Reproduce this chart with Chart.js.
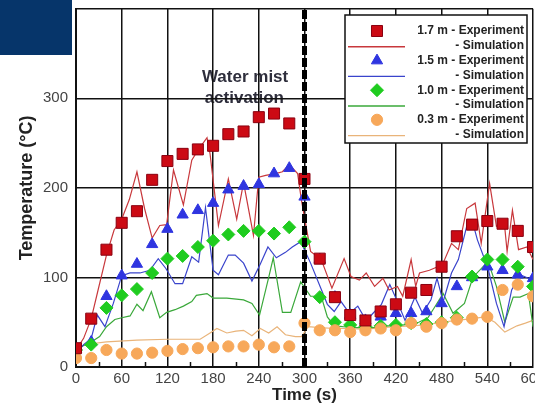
<!DOCTYPE html>
<html>
<head>
<meta charset="utf-8">
<script src="https://cdn.jsdelivr.net/npm/chart.js@4/dist/chart.umd.min.js"></script>
<style>
  html, body { margin:0; padding:0; width:535px; height:409px; overflow:hidden; background:#fff; }
  #wrap { position:relative; width:560px; height:409px; }
  #navy { position:absolute; left:0; top:0; width:72px; height:55px; background:#06356a; }
</style>
</head>
<body>
<div id="wrap">
  <canvas id="c" width="560" height="409"></canvas>
  <div id="navy"></div>
</div>
<script>
// ---- Data ----
const expTime = [0,20,40,60,80,100,120,140,160,180,200,220,240,260,280,300,320,340,360,380,400,420,440,460,480,500,520,540,560,580,600];
const exp17 = [21,54,131,161,174,209,230,238,243,247,260,263,279,283,272,210,121,78,58,52,62,70,83,86,112,146,159,163,160,152,134];
const exp15 = [20,28,79,102,115,137,154,170,175,183,198,202,204,216,222,190,120,78,58,52,56,60,60,62,71,90,100,112,108,103,99];
const exp10 = [19,25,66,80,87,105,121,124,134,141,148,152,152,149,156,140,78,50,47,45,46,47,49,48,50,55,101,120,120,112,90];
const exp03 = [10,10,19,15,15,16,18,20,21,22,23,23,25,22,23,49,41,41,39,41,43,41,49,45,49,53,54,56,86,92,79];

const simTime17 = [0,10,20,29,40,50,60,70,80,90,100,110,119,128,141,152,160,172,176,187,200,211,220,233,240,249,262,271,280,291,296,308,322,336,352,361,372,381,392,403,411,422,429,440,446,451,464,481,493,502,513,524,532,543,552,562,566,573,581,592,600];
const sim17     = [19,32,54,86,125,153,165,187,218,177,144,158,159,220,181,231,242,256,238,158,210,165,206,147,212,214,216,218,226,216,186,129,120,88,121,101,97,105,90,99,86,90,79,120,90,105,108,114,138,131,177,183,138,205,157,164,129,175,131,134,120];

const simTime15 = [0,10,20,28,38,49,60,71,84,97,108,118,130,140,152,161,170,180,187,200,209,220,231,242,252,263,275,284,295,308,330,339,348,359,370,381,390,401,412,422,432,445,455,466,474,482,493,502,513,520,527,541,552,562,572,583,594,600];
const sim15     = [15,25,32,58,45,71,102,105,105,108,121,110,93,93,123,117,178,108,103,125,125,116,96,115,134,122,128,134,140,116,70,62,73,60,68,52,60,70,92,73,52,78,60,75,99,73,105,120,157,164,142,110,71,45,86,103,99,101];

const simTime10 = [0,10,20,31,40,51,60,71,80,88,99,110,119,130,141,152,158,172,180,198,220,231,241,253,259,271,282,295,308,322,330,339,350,370,390,410,430,450,462,471,482,495,510,521,541,552,563,574,583,594,600];
const sim10     = [19,24,28,34,45,53,55,57,70,63,84,55,61,64,68,73,80,82,77,77,75,71,58,100,122,61,61,95,79,79,56,46,45,44,44,46,47,50,55,67,82,60,71,100,118,90,50,78,78,82,45];

const simTime03 = [0,20,40,80,120,163,176,185,198,210,220,231,242,253,264,275,288,296,305,320,340,360,380,400,420,440,460,480,500,520,537,550,563,579,590,600];
const sim03     = [22,26,28,30,31,31,38,43,38,40,41,35,43,38,45,36,34,34,45,44,43,43,42,44,45,46,47,50,52,54,56,50,39,46,49,52];

const activationTime = 300;
const xTicks = [0,60,120,180,240,300,360,420,480,540,600];
const yTicks = [0,100,200,300,400];
const yTickLabels = ['0','100','200','300',''];
const minorX = [30,90,150,210,270,330,390,450,510,570];

const legendLabels = ['1.7 m - Experiment','- Simulation','1.5 m - Experiment','- Simulation','1.0 m - Experiment','- Simulation','0.3 m - Experiment','- Simulation'];

// ---- Build datasets ----
const pts = (xs, ys) => xs.map((x, i) => ({x, y: ys[i]}));

const C = {
  red: '#cc0a14', redEdge:'#8a0010', redLine:'#c8383c',
  blue:'#2f35e0', blueLine:'#3a44cc',
  green:'#1fcc1f', greenLine:'#3aa83a',
  orange:'#f7a85a', orangeLine:'#e9b47a'
};

const expDs = (label, ys, style, r, bg, bc, order) => ({
  label, data: pts(expTime, ys), showLine:false, pointStyle:style, pointRadius:r,
  pointBackgroundColor:bg, pointBorderColor:bc, pointBorderWidth:1, order
});
const simDs = (label, xs, ys, col) => ({
  label, data: pts(xs, ys), showLine:true, borderColor:col, borderWidth:1.2,
  pointRadius:0, tension:0, order:10
});

const datasets = [
  expDs('1.7 m - Experiment', exp17, 'rect', 7.8, C.red, C.redEdge, 1),
  simDs('1.7 m - Simulation', simTime17, sim17, C.redLine),
  expDs('1.5 m - Experiment', exp15, 'triangle', 6.5, C.blue, C.blue, 4),
  simDs('1.5 m - Simulation', simTime15, sim15, C.blueLine),
  expDs('1.0 m - Experiment', exp10, 'rectRot', 6.5, C.green, C.green, 3),
  simDs('1.0 m - Simulation', simTime10, sim10, C.greenLine),
  expDs('0.3 m - Experiment', exp03, 'circle', 5.6, C.orange, C.orange, 2),
  simDs('0.3 m - Simulation', simTime03, sim03, C.orangeLine),
  { label:'activation', data: pts([activationTime, activationTime],[0,400]), showLine:true,
    borderColor:'#000', borderWidth:5, borderDash:[9,3], pointRadius:0, order:0, clip:false }
];

const fontFam = '"Liberation Sans", Arial, sans-serif';

// ---- Plugins ----
const annotation = {
  id:'annot',
  beforeDraw(chart){
    const {ctx, scales:{x, y}} = chart;
    ctx.save();
    ctx.fillStyle = '#2e2e3c';
    ctx.font = 'bold 17px ' + fontFam;
    ctx.textAlign = 'center';
    ctx.textBaseline = 'middle';
    ctx.fillText('Water mist', x.getPixelForValue(222), y.getPixelForValue(324));
    ctx.fillText('activation', x.getPixelForValue(221), y.getPixelForValue(300));
    ctx.restore();
  },
  afterDatasetsDraw(chart){
    const {ctx, scales:{x, y}} = chart;
    ctx.save();
    ctx.strokeStyle = '#111';
    ctx.lineWidth = 1.5;
    const b = y.getPixelForValue(0);
    minorX.forEach(v => {
      const px = Math.round(x.getPixelForValue(v)) + 0.5;
      ctx.beginPath(); ctx.moveTo(px, b); ctx.lineTo(px, b - 5); ctx.stroke();
    });
    ctx.restore();
  }
};

const customLegend = {
  id:'customLegend',
  afterDraw(chart){
    const ctx = chart.ctx;
    const L = 345, T = 15, R = 527, B = 143;
    ctx.save();
    ctx.fillStyle = '#fff';
    ctx.fillRect(L, T, R-L, B-T);
    ctx.strokeStyle = '#111';
    ctx.lineWidth = 1.5;
    ctx.strokeRect(L, T, R-L, B-T);
    ctx.font = 'bold 12px ' + fontFam;
    ctx.textAlign = 'right';
    ctx.textBaseline = 'middle';
    const y0 = 31, step = 14.8, mx = 377;
    for (let i = 0; i < 8; i++) {
      const yy = y0 + i*step;
      const ds = chart.data.datasets[i];
      if (i % 2 === 0) {
        ctx.fillStyle = ds.pointBackgroundColor;
        ctx.strokeStyle = ds.pointBorderColor;
        ctx.lineWidth = 1;
        Chart.helpers.drawPoint(ctx, {pointStyle: ds.pointStyle, radius: ds.pointRadius, borderWidth:1, rotation:0}, mx, yy);
      } else {
        ctx.strokeStyle = ds.borderColor;
        ctx.lineWidth = 1.4;
        ctx.beginPath(); ctx.moveTo(348, yy+1); ctx.lineTo(405, yy+1); ctx.stroke();
      }
      ctx.fillStyle = '#222';
      ctx.fillText(legendLabels[i], 524, yy);
    }
    ctx.restore();
  }
};

new Chart(document.getElementById('c'), {
  type:'scatter',
  data:{ datasets },
  options:{
    responsive:false,
    animation:false,
    layout:{ padding:{ top:8, right:27, left:0, bottom:0 } },
    plugins:{ legend:{ display:false }, tooltip:{ enabled:false } },
    scales:{
      x:{
        type:'linear', min:0, max:600,
        afterBuildTicks(s){ s.ticks = xTicks.map(v => ({value:v})); },
        ticks:{ color:'#444', font:{ size:15, family:fontFam }, padding:3, maxRotation:0, autoSkip:false },
        grid:{ color:'#111', lineWidth:1.5, drawTicks:false },
        border:{ color:'#111', width:2 },
        title:{ display:true, text:'Time (s)', color:'#222', font:{ size:17, weight:'bold', family:fontFam }, padding:{ top:0, bottom:3 } },
        afterFit(s){ s.height = 42; }
      },
      y:{
        type:'linear', min:0, max:400,
        afterBuildTicks(s){ s.ticks = yTicks.map(v => ({value:v})); },
        ticks:{ color:'#444', font:{ size:15, family:fontFam, lineHeight:0.02 }, padding:8,
          callback(v){ return yTickLabels[yTicks.indexOf(v)]; } },
        grid:{ color:'#111', lineWidth:1.5, drawTicks:false },
        border:{ color:'#111', width:2 },
        title:{ display:true, text:'Temperature (°C)', color:'#222', font:{ size:18, weight:'bold', family:fontFam }, padding:{ top:16, bottom:0 } },
        afterFit(s){ s.width = 76; }
      }
    }
  },
  plugins:[annotation, customLegend]
});
</script>
</body>
</html>
